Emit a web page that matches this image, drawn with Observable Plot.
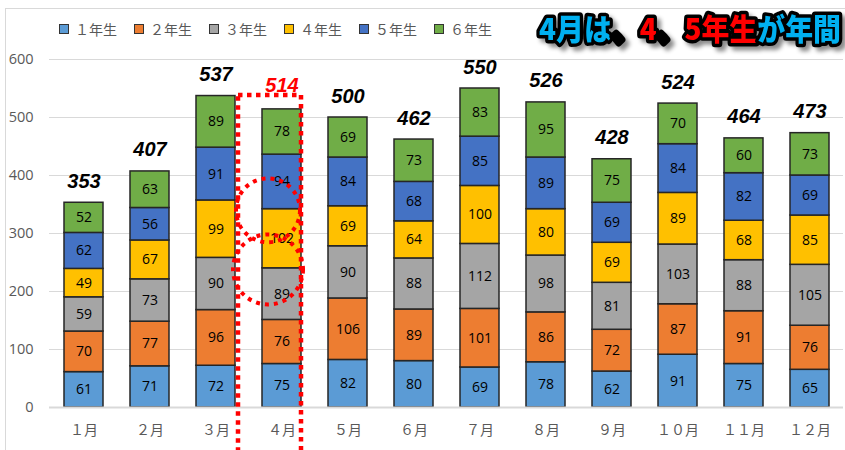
<!DOCTYPE html>
<html><head><meta charset="utf-8">
<script src="https://cdn.jsdelivr.net/npm/d3@7"></script>
<script src="https://cdn.jsdelivr.net/npm/@observablehq/plot@0.6"></script>
<style>
html,body{margin:0;padding:0;background:#fff;}
#wrap{position:relative;width:845px;height:450px;overflow:hidden;}
#frame{position:absolute;left:5px;top:8px;width:900px;height:500px;border-left:1px solid #d9d9d9;border-top:1px solid #d9d9d9;}
#legend{position:absolute;left:59px;top:19px;display:flex;font-family:"Noto Sans CJK JP";font-size:14px;color:#595959;}
.item{width:75px;display:flex;align-items:center;}
.sw{width:8px;height:8px;border:1px solid #333;margin-right:6px;}
#title{position:absolute;left:520px;top:0;width:325px;height:60px;overflow:hidden;filter:drop-shadow(4px 4px 2px rgba(0,0,0,0.45));}
#chart{position:absolute;left:0;top:0;}
</style></head>
<body><div id="wrap"><div id="frame"></div><div id="chart"></div><div id="legend"></div>
<svg id="title" width="325" height="60"><text x="19" y="40" textLength="302" lengthAdjust="spacingAndGlyphs" font-family="Noto Sans CJK JP" font-weight="900" font-size="30" stroke="#000" stroke-width="7" stroke-linejoin="round" paint-order="stroke"><tspan fill="#00b0f0">4月は</tspan><tspan fill="#000">、</tspan><tspan fill="#ff0000">4</tspan><tspan fill="#000">、</tspan><tspan fill="#ff0000">5年生</tspan><tspan fill="#00b0f0">が年間</tspan></text></svg>
</div>
<script>
const months = ["１月","２月","３月","４月","５月","６月","７月","８月","９月","１０月","１１月","１２月"];
const grades = ["１年生","２年生","３年生","４年生","５年生","６年生"];
const colors = ["#5b9bd5","#ed7d31","#a5a5a5","#ffc000","#4472c4","#70ad47"];
const g1 = [61,71,72,75,82,80,69,78,62,91,75,65];
const g2 = [70,77,96,76,106,89,101,86,72,87,91,76];
const g3 = [59,73,90,89,90,88,112,98,81,103,88,105];
const g4 = [49,67,99,102,69,64,100,80,69,89,68,85];
const g5 = [62,56,91,94,84,68,85,89,69,84,82,69];
const g6 = [52,63,89,78,69,73,83,95,75,70,60,73];
const totals = [353,407,537,514,500,462,550,526,428,524,464,473];
const yTicks = [0,100,200,300,400,500,600];
const highlightMonth = "４月";
const rectRange = [{month:"４月", y1:-80, y2:538}];
const circles = [{month:"４月", y:340, r:32},{month:"４月", y:238, r:35}];

const series = [g1,g2,g3,g4,g5,g6];
const data = months.flatMap((m,i)=>grades.map((g,j)=>({month:m, grade:g, value:series[j][i]})));
const tot = months.map((m,i)=>({month:m, total:totals[i]}));

const legend = document.getElementById("legend");
grades.forEach((g,i)=>{
  const it=document.createElement("div");it.className="item";
  it.innerHTML=`<span class="sw" style="background:${colors[i]}"></span><span>${g}</span>`;
  legend.appendChild(it);
});

const chart = Plot.plot({
  width:845, height:450,
  marginLeft:49, marginRight:2, marginTop:59, marginBottom:43,
  style:{fontFamily:"Open Sans", background:"transparent", overflow:"visible"},
  x:{domain:months, paddingInner:0.41, paddingOuter:0.205, axis:null, label:null},
  y:{domain:[0,600], axis:null, label:null},
  color:{domain:grades, range:colors},
  r:{type:"identity"},
  marks:[
    Plot.ruleY(yTicks.filter(d=>d>0), {stroke:"#d9d9d9", strokeWidth:1}),
    Plot.barY(data, {x:"month", y:"value", fill:"grade", stroke:"#262626", strokeWidth:1.5}),
    Plot.text(data, Plot.stackY({x:"month", y:"value", text:"value", fill:"#000", fontSize:14, fontFamily:"Open Sans"})),
    Plot.ruleY([0], {stroke:"#d9d9d9", strokeWidth:2}),
    Plot.text(tot.filter(d=>d.month!==highlightMonth), {x:"month", y:"total", text:"total", lineAnchor:"bottom", dy:-15, fill:"#000", fontSize:20, fontStyle:"italic", fontWeight:"bold", fontFamily:"Liberation Sans"}),
    Plot.text(tot.filter(d=>d.month===highlightMonth), {x:"month", y:"total", text:"total", lineAnchor:"bottom", dy:-17, fill:"#ff0000", fontSize:20, fontStyle:"italic", fontWeight:"bold", fontFamily:"Liberation Sans"}),
    Plot.barY(rectRange, {x:"month", y1:"y1", y2:"y2", fill:"none", stroke:"#ff0000", strokeWidth:4.5, strokeDasharray:"4.5 4.5", insetLeft:-24, insetRight:0}),
    Plot.dot(circles, {x:"month", y:"y", r:"r", dx:-14, fill:"none", stroke:"#ff0000", strokeWidth:4, strokeDasharray:"4 5"}),
    Plot.axisY(yTicks, {tickSize:0, tickPadding:16, fontSize:14.5, fill:"#595959", fontFamily:"Open Sans", label:null}),
    Plot.axisX({tickSize:0, tickPadding:18, fontSize:14, fill:"#595959", fontFamily:"Noto Sans CJK JP", label:null})
  ]
});
document.getElementById("chart").appendChild(chart);
</script></body></html>
